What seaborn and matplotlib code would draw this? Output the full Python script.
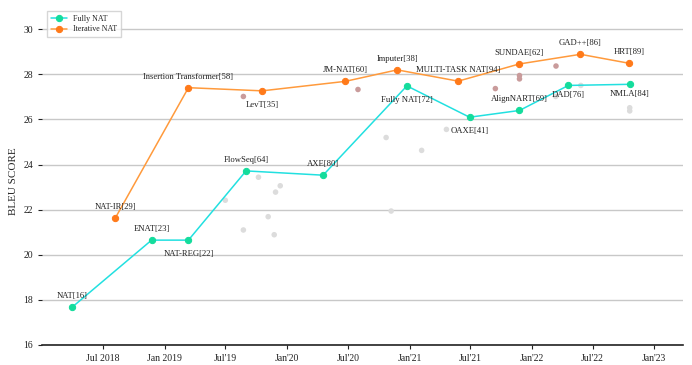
import pandas as pd
import matplotlib.pyplot as plt
import seaborn as sns

# Fully NAT milestones
full_names = ["NAT[16]", "ENAT[23]", "NAT-REG[22]", "FlowSeq[64]", "AXE[80]",
              "Fully NAT[72]", "OAXE[41]", "AlignNART[69]", "DAD[76]", "NMLA[84]"]
full_dates = ["2018-04-01", "2018-11-23", "2019-03-13", "2019-09-01", "2020-04-18",
              "2020-12-24", "2021-06-29", "2021-11-25", "2022-04-20", "2022-10-20"]
full_bleu = [17.69, 20.65, 20.65, 23.72, 23.53, 27.49, 26.10, 26.40, 27.51, 27.56]
full_pos = ["above", "above", "below", "above", "above",
            "below", "below", "above", "below", "below"]

# Iterative NAT milestones
iter_names = ["NAT-IR[29]", "Insertion Transformer[58]", "LevT[35]", "JM-NAT[60]",
              "Imputer[38]", "MULTI-TASK NAT[94]", "SUNDAE[62]", "GAD++[86]", "HRT[89]"]
iter_dates = ["2018-08-06", "2019-03-13", "2019-10-19", "2020-06-23", "2020-11-25",
              "2021-05-26", "2021-11-24", "2022-05-26", "2022-10-19"]
iter_bleu = [21.61, 27.41, 27.27, 27.69, 28.20, 27.70, 28.46, 28.89, 28.49]
iter_pos = ["above", "above", "below", "above", "above", "above", "above", "above", "above"]

# other fully NAT models (grey dots)
other_full_dates = ["2019-07-01", "2019-08-24", "2019-10-08", "2019-11-06", "2019-11-24",
                    "2019-11-28", "2019-12-12", "2020-10-23", "2020-11-07", "2021-02-06",
                    "2021-04-21", "2022-03-13", "2022-05-27", "2022-10-20", "2022-10-20"]
other_full_bleu = [22.42, 21.10, 23.44, 21.69, 20.89, 22.78, 23.06, 25.20, 21.94, 24.63,
                   25.56, 27.02, 27.51, 26.52, 26.38]

# other iterative models (rosy dots)
other_iter_dates = ["2019-08-24", "2020-07-31", "2021-09-14", "2021-11-25", "2021-11-25",
                    "2022-03-14"]
other_iter_bleu = [27.02, 27.33, 27.37, 27.95, 27.80, 28.37]

tick_dates = ["2018-07-01", "2019-01-01", "2019-07-01", "2020-01-01", "2020-07-01",
              "2021-01-01", "2021-07-01", "2022-01-01", "2022-07-01", "2023-01-01"]
tick_labels = ["Jul 2018", "Jan 2019", "Jul'19", "Jan'20", "Jul'20",
               "Jan'21", "Jul'21", "Jan'22", "Jul'22", "Jan'23"]

full_df = pd.DataFrame({"date": pd.to_datetime(full_dates), "bleu": full_bleu,
                        "name": full_names, "pos": full_pos})
iter_df = pd.DataFrame({"date": pd.to_datetime(iter_dates), "bleu": iter_bleu,
                        "name": iter_names, "pos": iter_pos})
ofull_df = pd.DataFrame({"date": pd.to_datetime(other_full_dates), "bleu": other_full_bleu})
oiter_df = pd.DataFrame({"date": pd.to_datetime(other_iter_dates), "bleu": other_iter_bleu})

sns.set_style("white")
plt.rcParams['font.family'] = ['Liberation Serif', 'DejaVu Serif']

fig = plt.figure(figsize=(6.92, 3.65), dpi=100)
ax = fig.add_axes([42 / 692, 1 - 345 / 365, 641 / 692, 327 / 365])

sns.scatterplot(data=ofull_df, x="date", y="bleu", ax=ax, color="#dcdcdc", s=16,
                edgecolor="none", zorder=2, legend=False)
sns.scatterplot(data=oiter_df, x="date", y="bleu", ax=ax, color="#c99b9b", s=16,
                edgecolor="none", zorder=2, legend=False)

sns.lineplot(data=full_df, x="date", y="bleu", ax=ax, color="#22e0e0", lw=1.1,
             marker="o", markersize=4.5, markerfacecolor="#14dc9c", markeredgecolor="#14dc9c",
             label="Fully NAT", zorder=3)
sns.lineplot(data=iter_df, x="date", y="bleu", ax=ax, color="#ff9a3c", lw=1.1,
             marker="o", markersize=4.5, markerfacecolor="#ff7a1a", markeredgecolor="#ff7a1a",
             label="Iterative NAT", zorder=3)

for df in (full_df, iter_df):
    for _, r in df.iterrows():
        dy = 8 if r["pos"] == "above" else -10
        if r["name"] in ("DAD[76]", "NMLA[84]"):
            dy = -7
        ax.annotate(r["name"], (r["date"], r["bleu"]), xytext=(0, dy),
                    textcoords="offset points", ha="center", va="center",
                    fontsize=6.2, color="#222222", zorder=4)

ax.set_xlim(pd.Timestamp("2017-12-31"), pd.Timestamp("2023-03-28"))
ax.set_ylim(16, 30.5)
ax.set_yticks(range(16, 31, 2))
ax.set_xticks(pd.to_datetime(tick_dates))
ax.set_xticklabels(tick_labels)
ax.yaxis.grid(True, color="#c8c8c8", lw=1)
ax.xaxis.grid(False)
ax.set_xlabel("")
ax.set_ylabel("BLEU SCORE", fontsize=8)

for s in ("top", "right", "left"):
    ax.spines[s].set_visible(False)
ax.spines["bottom"].set_color("#222222")
ax.spines["bottom"].set_linewidth(1.2)
ax.tick_params(axis="both", labelsize=7, colors="#222222", length=3, width=0.8)
ax.tick_params(axis="y", left=True)
ax.tick_params(axis="x", bottom=True)

ax.legend_.remove()
handles, labels = ax.get_legend_handles_labels()
fig.legend(handles, labels, loc="upper left", bbox_to_anchor=(47 / 692, 1 - 11 / 365),
           borderaxespad=0, fontsize=5.8, frameon=True, edgecolor="#cccccc",
           fancybox=False, handlelength=2.0, borderpad=0.45, labelspacing=0.35)

plt.savefig("out.png", dpi=100)
